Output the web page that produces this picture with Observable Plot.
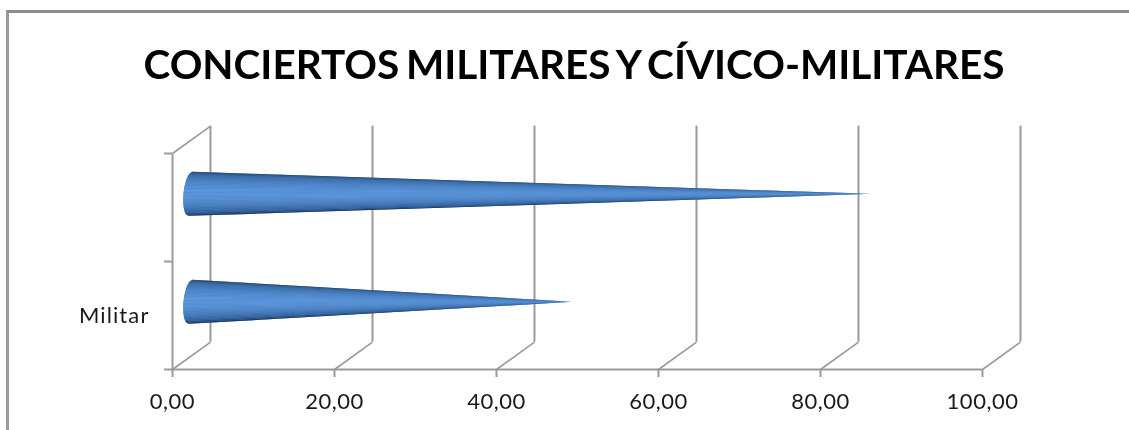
<!DOCTYPE html>
<html><head><meta charset="utf-8">
<script src="https://cdn.jsdelivr.net/npm/d3@7"></script>
<script src="https://cdn.jsdelivr.net/npm/@observablehq/plot@0.6"></script>
<style>
html,body{margin:0;padding:0;background:#fff;overflow:hidden}
#frame{position:absolute;left:6px;top:10px;width:1123px;height:420px;border-top:3px solid #8c8c8c;border-left:3px solid #9a9a9a;box-sizing:border-box}
#title{height:87px;box-sizing:border-box;padding-top:26px;padding-left:10px;text-align:center;font:bold 40.5px Lato,sans-serif;word-spacing:-3px;color:#000;white-space:nowrap;filter:blur(0.4px)}
svg{display:block;filter:blur(0.45px)}
g[aria-label="x-axis tick label"] text{letter-spacing:0.5px}
g[aria-label="text"] text{letter-spacing:1.1px}
</style></head><body>
<div id="frame"><div id="title"></div><div id="chart"></div></div>
<script>
const titleText = "CONCIERTOS MILITARES Y CÍVICO-MILITARES";
const categories = ["Militar", ""];
const values = [47, 84];
const ticks = [0, 20, 40, 60, 80, 100];
const yTicks = [0, 1, 2];
const shadeStops = [0, 0.07, 0.22, 0.42, 0.6, 0.78, 0.92, 1];
const shadeColors = ["#26476f", "#3a6ba6", "#4d85c8", "#5c97dd", "#5a94d8", "#4a7fbe", "#35619a", "#1b3559"];

// oblique depth of the chart's box, in data units
const depthX = 4.69, depthY = 0.253;
const radius = 0.204, baseBulge = 0.86, baseCx = 2.22, baseTilt = 0.25;
const strips = 32;

document.getElementById("title").textContent = titleText;
const shade = d3.scaleLinear().domain(shadeStops).range(shadeColors);
const fmt = d => d.toFixed(2).replace(".", ",");

const cone = [], silhouette = [];
values.forEach((v, c) => {
  const cy = c + 0.5 + depthY / 2;
  const base = t => ({x: baseCx - baseBulge * Math.sqrt(Math.max(0, 1 - t * t)) + baseTilt * t, y: cy + radius * t});
  const tip = {x: v + depthX / 2, y: cy};
  for (let i = 0; i < strips; i++) {
    const t0 = -1 + 2 * i / strips, t1 = -1 + 2 * (i + 1) / strips;
    const col = shade((1 - (t0 + t1) / 2) / 2);
    const strip = c + "-" + i;
    [base(t0), base(t1), tip].forEach(p => cone.push({...p, strip, col}));
    silhouette.push({...base(t0), cone: c});
  }
  silhouette.push({...base(1), cone: c}, {...tip, cone: c});
});

const grey = "#9a9a9a";
const chart = Plot.plot({
  width: 1120, height: 330,
  marginLeft: 163, marginRight: 147, marginTop: 53, marginBottom: 61,
  x: {domain: [0, 100], label: null},
  y: {domain: [0, 2], label: null},
  color: {type: "identity"},
  style: {background: "transparent", overflow: "visible"},
  marks: [
    Plot.ruleX(ticks, {x: d => d + depthX, y1: depthY, y2: 2 + depthY, stroke: grey, strokeWidth: 2, strokeOpacity: 1}),
    Plot.link(ticks, {x1: d => d, y1: 0, x2: d => d + depthX, y2: depthY, stroke: grey, strokeWidth: 1.6, strokeOpacity: 1}),
    Plot.link([0], {x1: 0, y1: 0, x2: 0, y2: 2, stroke: grey, strokeWidth: 2, strokeOpacity: 1}),
    Plot.link([depthX], {x1: 0, y1: 2, x2: depthX, y2: 2 + depthY, stroke: grey, strokeWidth: 1.6, strokeOpacity: 1}),
    Plot.ruleY([0], {x1: 0, x2: 100, stroke: grey, strokeWidth: 2, strokeOpacity: 1}),
    Plot.line(silhouette, {x: "x", y: "y", z: "cone", fill: "#4a7fbe", stroke: "none"}),
    Plot.line(cone, {x: "x", y: "y", z: "strip", fill: "col", stroke: "none"}),
    Plot.axisX({ticks, tickFormat: fmt, tickSize: 8, tickPadding: 16, stroke: grey, strokeWidth: 2, strokeOpacity: 1, fill: "#1a1a1a", fontSize: 22, fontFamily: "Lato, sans-serif", label: null, textStroke: "none"}),
    Plot.axisY({ticks: yTicks, tickFormat: () => "", tickSize: 8, stroke: grey, strokeWidth: 2, strokeOpacity: 1, label: null}),
    Plot.text(categories, {x: 0, y: (d, i) => i + 0.5, text: d => d, textAnchor: "end", dx: -23, fill: "#1a1a1a", fontSize: 22, fontFamily: "Lato, sans-serif"})
  ]
});
document.getElementById("chart").appendChild(chart);
</script>
</body></html>
